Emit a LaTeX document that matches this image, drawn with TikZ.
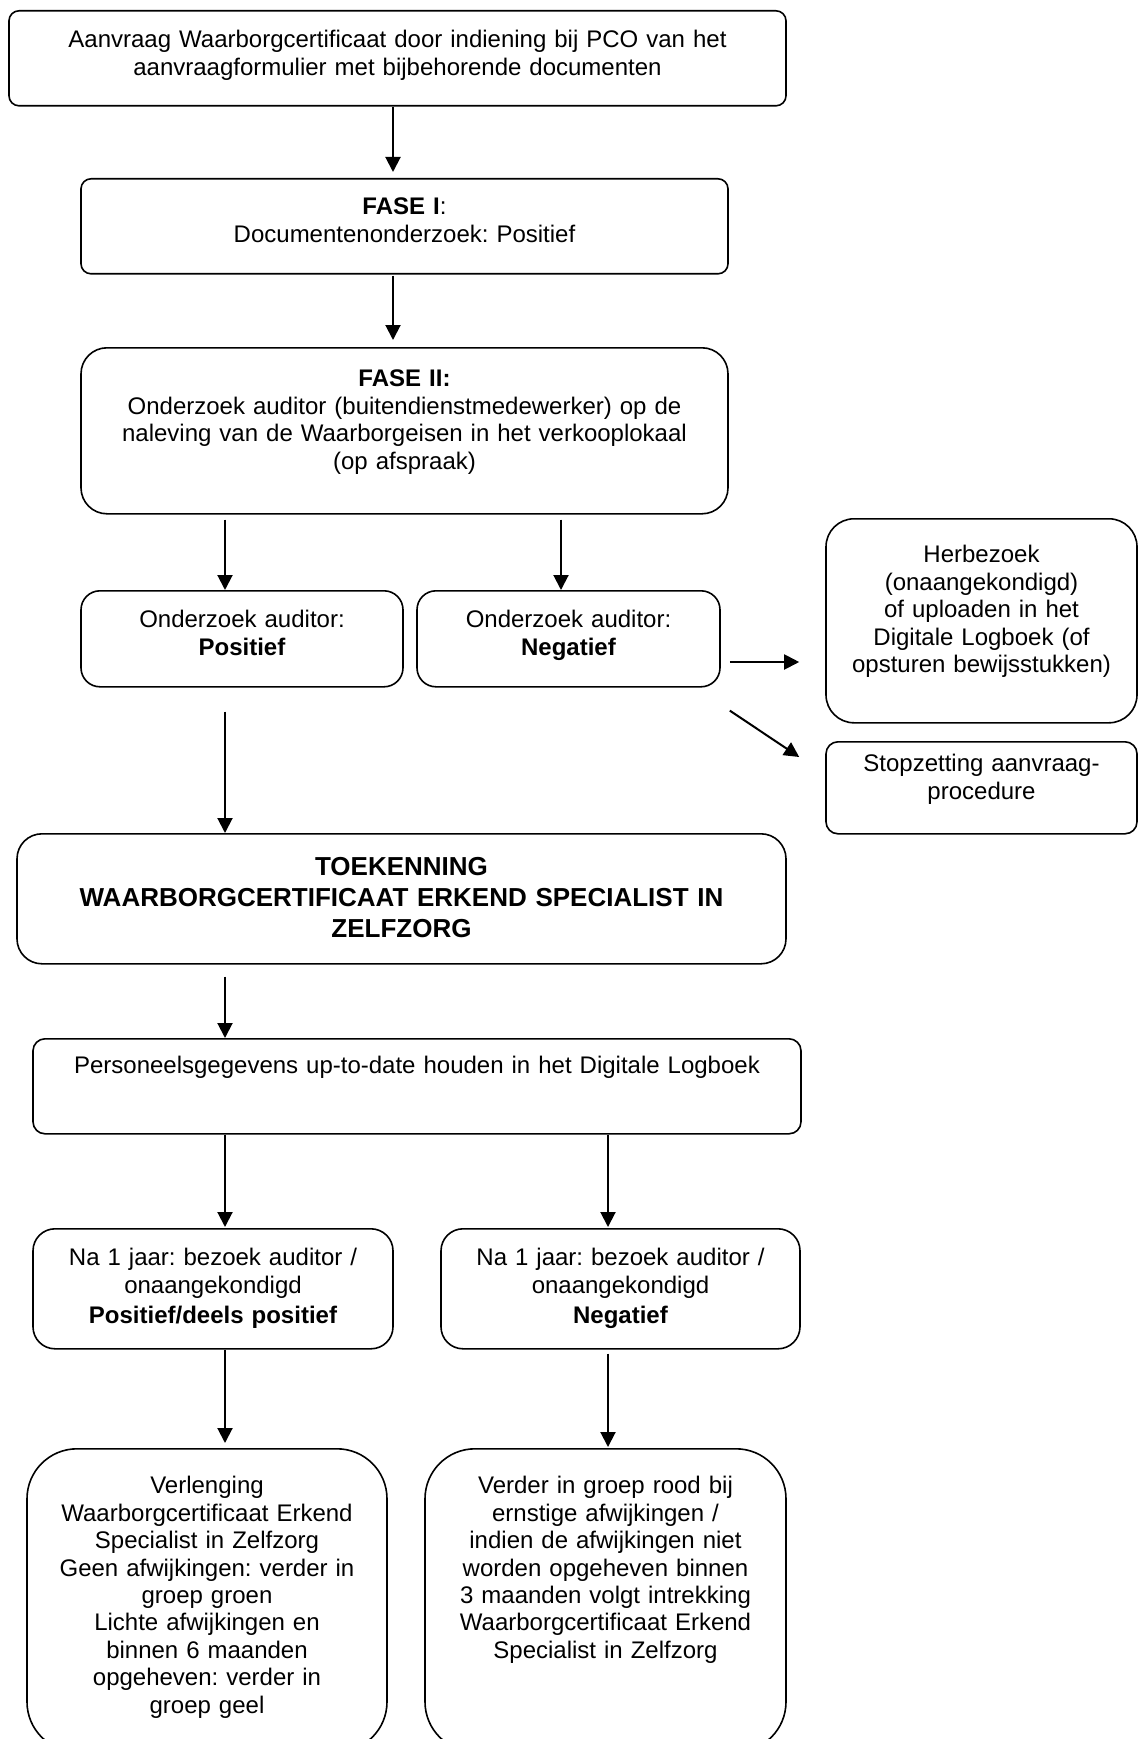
\documentclass[tikz,border=0pt]{standalone}
\usepackage{fontspec}
\setmainfont{Liberation Sans}
\frenchspacing
\usetikzlibrary{arrows.meta, calc}

\tikzset{
  box/.style={draw, line width=0.8pt, anchor=north, inner xsep=0pt, inner ysep=0pt, align=center, font=\fontsize{12}{13.7}\selectfont},
  arr/.style={line width=1pt, -{Triangle[length=7.5pt,width=7.5pt]}}
}

\begin{document}
\begin{tikzpicture}[x=0.5pt,y=-0.5pt]
\path[use as bounding box, clip] (0,0) rectangle (1139,1739);

\node[box, text width=388.5pt, text height=18.5pt, text depth=29pt, rounded corners=5pt] (aanvraag) at (397.5,10) {Aanvraag Waarborgcertificaat door indiening bij PCO van het\\aanvraagformulier met bijbehorende documenten};
\node[box, text width=323.5pt, text height=18pt, text depth=29.5pt, rounded corners=5pt] (fase1) at (404.5,178) {\textbf{FASE I}:\\Documentenonderzoek: Positief};
\node[box, text width=323.5pt, text height=19.5pt, text depth=63.5pt, rounded corners=13pt] (fase2) at (404.5,347) {\textbf{FASE II:}\\Onderzoek auditor (buitendienstmedewerker) op de\\naleving van de Waarborgeisen in het verkooplokaal\\(op afspraak)};
\node[box, text width=161pt, text height=18.5pt, text depth=29.5pt, rounded corners=9.5pt] (pos) at (242,590) {Onderzoek auditor:\\\textbf{Positief}};
\node[box, text width=151.5pt, text height=18.5pt, text depth=29.5pt, rounded corners=9.5pt] (neg) at (568.5,590) {Onderzoek auditor:\\\textbf{Negatief}};
\node[box, text width=155.5pt, text height=22pt, text depth=80pt, rounded corners=14pt] (herb) at (981.5,518) {Herbezoek\\(onaangekondigd)\\of uploaden in het\\Digitale Logboek (of\\opsturen bewijsstukken)};
\node[box, text width=155.5pt, text height=15pt, text depth=31pt, rounded corners=6pt] (stop) at (981.5,741) {Stopzetting aanvraag-\\procedure};
\node[box, text width=384.5pt, text height=21pt, text depth=44pt, rounded corners=12.5pt, font=\fontsize{13}{15.3}\selectfont\bfseries] (toek) at (401.5,833) {TOEKENNING\\WAARBORGCERTIFICAAT ERKEND SPECIALIST IN\\ZELFZORG};
\node[box, text width=384pt, text height=17.5pt, text depth=30pt, rounded corners=6pt] (pers) at (417,1038) {Personeelsgegevens up-to-date houden in het Digitale Logboek};
\node[box, text width=180pt, text height=18.5pt, text depth=41.5pt, rounded corners=11pt] (na1) at (213,1228) {Na 1 jaar: bezoek auditor /\\onaangekondigd\\[1.5pt]\textbf{Positief/deels positief}};
\node[box, text width=179.5pt, text height=18.5pt, text depth=41.5pt, rounded corners=11pt] (na2) at (620.5,1228) {Na 1 jaar: bezoek auditor /\\onaangekondigd\\[1.5pt]\textbf{Negatief}};
\node[box, text width=180pt, text height=22.5pt, text depth=129pt, rounded corners=25pt] (verl) at (207,1448) {Verlenging\\Waarborgcertificaat Erkend\\Specialist in Zelfzorg\\Geen afwijkingen: verder in\\groep groen\\Lichte afwijkingen en\\binnen 6 maanden\\opgeheven: verder in\\groep geel};
\node[box, text width=180.5pt, text height=22.5pt, text depth=129pt, rounded corners=25pt] (verder) at (605.5,1448) {Verder in groep rood bij\\ernstige afwijkingen /\\indien de afwijkingen niet\\worden opgeheven binnen\\3 maanden volgt intrekking\\Waarborgcertificaat Erkend\\Specialist in Zelfzorg};

\coordinate (c1) at (393,0);
\coordinate (c2) at (225,0);
\coordinate (c3) at (561,0);
\coordinate (c4) at (608,0);

\foreach \src/\dst/\col/\sa/\sb in {aanvraag/fase1/c1/0pt/3pt, fase1/fase2/c1/0.5pt/3.5pt, fase2/pos/c2/2.5pt/0pt, fase2/neg/c3/2.5pt/0pt, pos/toek/c2/12pt/0pt, toek/pers/c2/6pt/0pt, pers/na1/c2/0pt/0.5pt, pers/na2/c4/0pt/0.5pt, na1/verl/c2/0pt/2.5pt, na2/verder/c4/2pt/0.5pt}{
  \draw[arr, shorten <=\sa, shorten >=\sb] (\src.south -| \col) -- (\dst.north -| \col);
};

\coordinate (negout) at ([yshift=-36pt]neg.north east);
\coordinate (negdown) at ([xshift=4.5pt,yshift=-11.5pt]neg.south east);
\coordinate (stopin) at ([xshift=-13pt,yshift=-8pt]stop.north west);
\draw[arr, shorten <=4.5pt, shorten >=13pt] (negout) -- (herb.west |- negout);
\draw[arr] (negdown) -- (stopin);
\end{tikzpicture}
\end{document}
